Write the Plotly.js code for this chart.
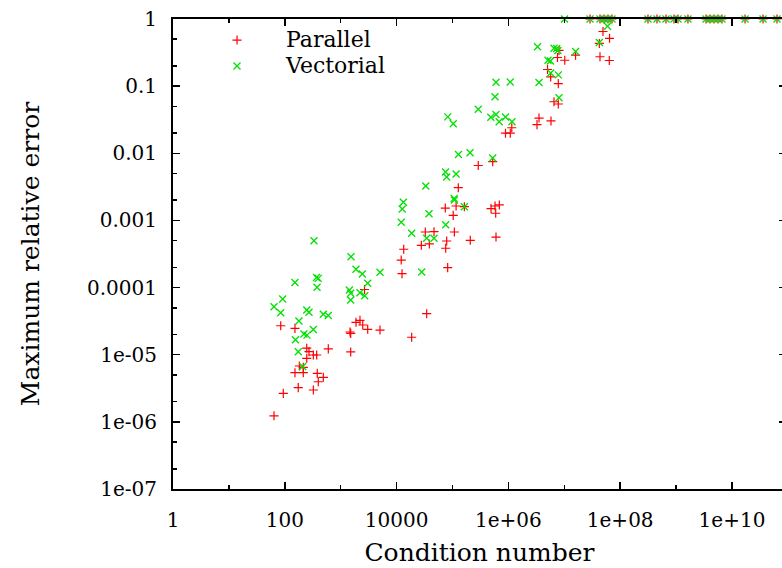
<!DOCTYPE html>
<html>
<head>
<meta charset="utf-8">
<script src="https://cdn.plot.ly/plotly-3.0.1.min.js"></script>
<style>
html,body{margin:0;padding:0;overflow:hidden;background:#fff;}
#chart{width:790px;height:568px;}
</style>
</head>
<body>
<div id="chart"></div>
<script>
// Parallel (red +)
var parallelCond = [
  64.1, 84.5, 94, 152, 152, 174, 182, 214, 214, 247, 271, 324, 372, 247, 600, 381, 489, 397, 324,
  1879, 2213, 2477, 3041, 5047, 1466, 1510, 1510, 2667,
  1.27e5, 7.43e4, 1.16e5, 1.63e5, 4.89e5, 5.76e5, 6.88e5, 5.93e5, 1.03e5, 3.26e4, 4.67e4, 1.08e5,
  7.87e4, 2.77e4, 3.85e4, 2.08e5, 6.0e5, 7.56e4, 1.34e4, 1.21e4, 1.25e4, 8.20e4, 3.45e4, 1.86e4,
  1.15e6, 8.87e5, 1.08e6, 2.89e5, 5.24e5, 3.53e6, 3.25e6, 5.78e6, 6.54e6, 7.81e6, 5.01e6, 5.71e6,
  7.81e6, 8.04e6, 7.55e6, 1.02e7, 1.59e7, 4.92e7, 6.44e7, 4.23e7, 4.35e7, 6.38e7,
  2.88e7, 4.35e7, 5.13e7, 6.05e7, 7.13e7, 3.14e8, 4.55e8, 6.59e8, 9.16e8, 1.08e9, 1.63e9,
  3.43e9, 4.04e9, 4.76e9, 5.62e9, 6.62e9, 1.71e10, 3.59e10, 6.38e10
];
var parallelErr = [
  1.23e-6, 2.70e-5, 2.66e-6, 2.47e-5, 5.40e-6, 3.23e-6, 6.79e-6, 6.49e-6, 5.40e-6, 1.25e-5, 1.11e-5, 9.9e-6, 9.9e-6, 8.84e-6, 1.22e-5, 5.28e-6, 4.61e-6, 3.96e-6, 2.98e-6,
  3.04e-5, 3.25e-5, 2.77e-5, 2.39e-5, 2.33e-5, 2.18e-5, 2.08e-5, 1.10e-5, 9.36e-5,
  3.07e-3, 1.53e-3, 1.64e-3, 1.60e-3, 1.50e-3, 1.64e-3, 1.70e-3, 1.28e-3, 1.19e-3, 6.72e-4, 6.79e-4, 6.72e-4,
  4.94e-4, 4.26e-4, 4.46e-4, 5.06e-4, 5.66e-4, 3.85e-4, 3.72e-4, 2.57e-4, 1.61e-4, 1.98e-4, 4.08e-5, 1.82e-5,
  2.40e-2, 1.99e-2, 1.99e-2, 6.58e-3, 7.50e-3, 3.35e-2, 2.67e-2, 3.03e-2, 5.86e-2, 5.42e-2, 0.177, 0.137,
  0.109, 0.340, 0.267, 0.243, 0.289, 0.651, 0.516, 0.432, 0.274, 0.241,
  1, 1, 1, 1, 1, 1, 1, 1, 1, 1, 1,
  1, 1, 1, 1, 1, 1, 1, 1
];

// Vectorial (green x)
var vectorialCond = [
  333, 1528, 1879, 2433, 5047, 152, 369, 397, 377, 3041, 1426, 2213, 2687, 1510, 1510,
  91.7, 64.1, 84.5, 247, 271, 489, 600, 179, 324, 220, 250, 155, 174, 209,
  3.32e4, 1.32e4, 1.26e4, 3.80e4, 1.08e5, 1.63e5, 1.21e4, 7.56e4, 1.86e4, 3.45e4, 4.67e4, 2.81e4,
  7.50e4, 7.87e4, 1.16e5, 1.07e5, 1.28e5, 2.06e5, 5.24e5, 8.24e4, 1.03e5, 2.89e5, 5.76e5, 4.85e5,
  6.0e5, 6.84e5, 8.87e5, 1.16e6, 6.0e5, 1.08e6, 3.53e6, 8.04e6, 3.32e6, 6.54e6, 7.31e6, 7.71e6,
  1.59e7, 4.23e7, 5.11e6, 5.66e6, 7.81e6, 5.71e6, 5.93e7, 1.01e7,
  2.88e7, 4.35e7, 5.13e7, 6.05e7, 7.13e7, 3.14e8, 4.55e8, 6.59e8, 9.16e8, 1.08e9, 1.63e9,
  3.43e9, 4.04e9, 4.76e9, 5.62e9, 6.62e9, 1.71e10, 3.59e10, 6.38e10
];
var vectorialErr = [
  4.99e-4, 2.88e-4, 1.87e-4, 1.59e-4, 1.69e-4, 1.19e-4, 1.41e-4, 1.37e-4, 1.01e-4, 1.16e-4, 9.2e-5, 8.38e-5, 7.57e-5, 8.21e-5, 6.53e-5,
  6.76e-5, 5.19e-5, 4.22e-5, 4.63e-5, 4.28e-5, 4.0e-5, 3.84e-5, 3.18e-5, 2.37e-5, 2.03e-5, 1.96e-5, 1.67e-5, 1.11e-5, 6.67e-6,
  3.26e-3, 1.86e-3, 1.48e-3, 1.26e-3, 2.01e-3, 1.60e-3, 9.38e-4, 8.63e-4, 6.43e-4, 5.42e-4, 5.42e-4, 1.71e-4,
  5.26e-3, 4.43e-3, 4.91e-3, 2.13e-3, 9.59e-3, 1.02e-2, 8.51e-3, 3.49e-2, 2.76e-2, 4.54e-2, 6.94e-2, 3.44e-2,
  3.78e-2, 2.95e-2, 3.47e-2, 2.95e-2, 0.114, 0.115, 0.113, 6.73e-2, 0.385, 0.367, 0.364, 0.340,
  0.328, 0.447, 0.243, 0.237, 0.147, 0.157, 0.778, 1,
  1, 1, 1, 1, 1, 1, 1, 1, 1, 1, 1,
  1, 1, 1, 1, 1, 1, 1, 1
];

var xTickVals = [1, 100, 1e4, 1e6, 1e8, 1e10];
var xTickText = ['1', '100', '10000', '1e+06', '1e+08', '1e+10'];
var xMinorVals = [10, 1000, 1e5, 1e7, 1e9];
var yTickVals = [1, 0.1, 0.01, 0.001, 1e-4, 1e-5, 1e-6, 1e-7];
var yTickText = ['1', '0.1', '0.01', '0.001', '0.0001', '1e-05', '1e-06', '1e-07'];
var yMinorVals = [2e-7, 5e-7, 2e-6, 5e-6, 2e-5, 5e-5, 2e-4, 5e-4, 2e-3, 5e-3, 0.02, 0.05, 0.2, 0.5];

var FONT = 'DejaVu Serif';

var traces = [
  {
    x: parallelCond, y: parallelErr, type: 'scatter', mode: 'markers',
    name: '<span style="font-size:22px">Parallel</span>',
    cliponaxis: false,
    marker: {symbol: 'cross-thin-open', size: 6.5, color: '#ff0000', line: {color: '#ff0000', width: 1.2}}
  },
  {
    x: vectorialCond, y: vectorialErr, type: 'scatter', mode: 'markers',
    name: '<span style="font-size:22px">Vectorial</span>',
    cliponaxis: false,
    marker: {symbol: 'x-thin-open', size: 7, color: '#00e000', line: {color: '#00e000', width: 1.3}}
  }
];

var layout = {
  width: 790, height: 568,
  margin: {l: 173, r: 4, t: 19, b: 79},
  paper_bgcolor: '#ffffff', plot_bgcolor: '#ffffff',
  font: {family: FONT, size: 20, color: '#000'},
  showlegend: true,
  legend: {
    x: 0.0245, y: 0.9935, xanchor: 'left', yanchor: 'top',
    bgcolor: 'rgba(0,0,0,0)', borderwidth: 0,
    itemwidth: 88,
    font: {family: FONT, size: 17.7, color: '#000'}
  },
  xaxis: {
    type: 'log', range: [0, 10.966],
    tickmode: 'array', tickvals: xTickVals, ticktext: xTickText,
    ticks: 'inside', ticklen: 7, tickwidth: 1.5, tickcolor: '#000',
    minor: {tickmode: 'array', tickvals: xMinorVals, ticks: 'inside', ticklen: 4, tickwidth: 1.5, tickcolor: '#000'},
    showline: true, linewidth: 2, linecolor: '#000', mirror: 'allticks',
    showgrid: false, zeroline: false,
    ticklabelstandoff: 12,
    tickfont: {family: FONT, size: 20, color: '#000'},
    title: {text: 'Condition number', font: {family: FONT, size: 25, color: '#000'}, standoff: 12}
  },
  yaxis: {
    type: 'log', range: [-7, 0],
    tickmode: 'array', tickvals: yTickVals, ticktext: yTickText,
    ticks: 'inside', ticklen: 7, tickwidth: 1.5, tickcolor: '#000',
    minor: {tickmode: 'array', tickvals: yMinorVals, ticks: 'inside', ticklen: 4, tickwidth: 1.5, tickcolor: '#000'},
    showline: true, linewidth: 2, linecolor: '#000', mirror: 'allticks',
    showgrid: false, zeroline: false,
    ticklabelstandoff: 10,
    tickfont: {family: FONT, size: 20, color: '#000'},
    title: {text: 'Maximum relative error', font: {family: FONT, size: 25, color: '#000'}, standoff: 40}
  }
};

Plotly.newPlot('chart', traces, layout, {displayModeBar: false, staticPlot: true});
</script>
</body>
</html>
